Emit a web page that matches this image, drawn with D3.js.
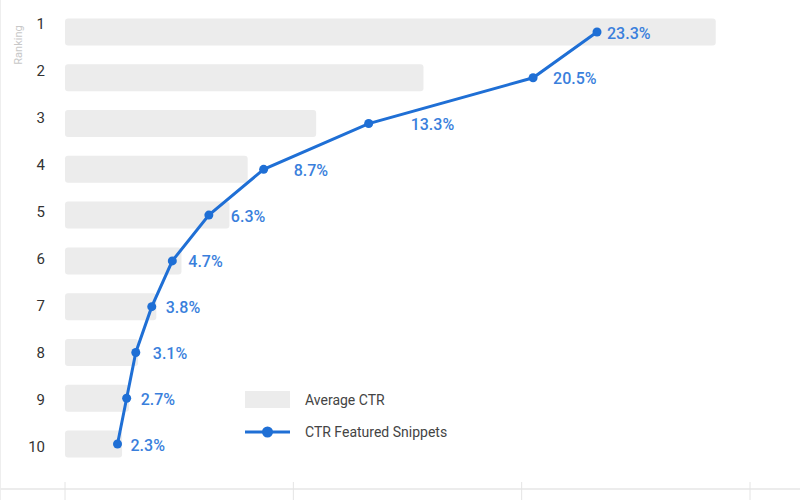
<!DOCTYPE html>
<html>
<head>
<meta charset="utf-8">
<script src="https://cdn.jsdelivr.net/npm/d3@7"></script>
<style>
  body { margin: 0; background: #fff; }
  svg { font-family: Roboto, "Noto Sans", sans-serif; }
</style>
</head>
<body>
<div id="chartHolder"></div>
<script>
const rankings = [1, 2, 3, 4, 5, 6, 7, 8, 9, 10];
const averageCtr = [28.5, 15.7, 11.0, 8.0, 7.2, 5.1, 4.0, 3.2, 2.8, 2.5];
const snippetCtr = [23.3, 20.5, 13.3, 8.7, 6.3, 4.7, 3.8, 3.1, 2.7, 2.3];
const xTicks = [0, 10, 20, 30];
const legendNames = ["Average CTR", "CTR Featured Snippets"];

// label nudges as they sit in the picture
const labelDx = [10, 20, 42, 30, 22, 16, 14, 17, 14, 13];

function GetChart(){
    const width = 800;
    const height = 500;
    const blue = "#1f6fd5";
    const svg = d3.select("#chartHolder")
        .append("svg")
        .attr("width", width)
        .attr("height", height);

    const xScale = d3.scaleLinear().domain([0, 30]).range([65, 750]);
    const yScale = d3.scalePoint().domain(rankings).range([32, 444]);
    const yLabel = d3.scalePoint().domain(rankings).range([24, 447]);
    const barH = 27;

    // frame + bottom axis
    svg.append("line")
        .attr("x1", 0.5).attr("x2", 0.5).attr("y1", 0).attr("y2", height)
        .style("stroke", "#eeeeee");
    svg.append("line")
        .attr("x1", 0).attr("x2", width).attr("y1", 489).attr("y2", 489)
        .style("stroke", "#ececec").style("stroke-width", 2);
    svg.selectAll(".xtick")
        .data(xTicks)
        .enter()
        .append("line")
        .attr("class", "xtick")
        .attr("x1", d => xScale(d)).attr("x2", d => xScale(d))
        .attr("y1", 482).attr("y2", 500)
        .style("stroke", "#e4e4e4");

    // y labels
    const yAxis = d3.axisLeft(yLabel).tickSize(0).tickPadding(0);
    const gy = svg.append("g")
        .attr("transform", "translate(45,0)")
        .call(yAxis);
    gy.select(".domain").remove();
    gy.selectAll("text")
        .style("font-size", "15px")
        .style("fill", "#333")
        .style("font-family", "Roboto, sans-serif");

    svg.append("text")
        .attr("transform", "translate(22,45) rotate(-90)")
        .attr("text-anchor", "middle")
        .style("font-size", "11px")
        .style("fill", "#c8c8c8")
        .text("Ranking");

    // bars
    svg.selectAll(".bar")
        .data(averageCtr)
        .enter()
        .append("rect")
        .attr("class", "bar")
        .attr("x", xScale(0))
        .attr("y", (d, i) => yScale(rankings[i]) - barH / 2)
        .attr("width", d => xScale(d) - xScale(0))
        .attr("height", barH)
        .attr("rx", 3)
        .style("fill", "#ececec");

    // line
    const line = d3.line()
        .x(d => xScale(d))
        .y((d, i) => yScale(rankings[i]));
    svg.append("path")
        .datum(snippetCtr)
        .attr("d", line)
        .style("fill", "none")
        .style("stroke", blue)
        .style("stroke-width", 3);
    svg.selectAll(".dot")
        .data(snippetCtr)
        .enter()
        .append("circle")
        .attr("class", "dot")
        .attr("cx", d => xScale(d))
        .attr("cy", (d, i) => yScale(rankings[i]))
        .attr("r", 4.5)
        .style("fill", blue);
    svg.selectAll(".val")
        .data(snippetCtr)
        .enter()
        .append("text")
        .attr("class", "val")
        .attr("x", (d, i) => xScale(d) + labelDx[i])
        .attr("y", (d, i) => yScale(rankings[i]) + 1)
        .attr("dy", "0.35em")
        .style("font-size", "16px")
        .style("font-weight", 500)
        .style("fill", "#3a7fdc")
        .text(d => d.toFixed(1) + "%");

    // legend
    const lg = svg.append("g").attr("transform", "translate(245,400)");
    lg.append("rect")
        .attr("x", 0).attr("y", -9).attr("width", 45).attr("height", 17)
        .style("fill", "#ececec");
    lg.append("line")
        .attr("x1", 0).attr("x2", 45).attr("y1", 32).attr("y2", 32)
        .style("stroke", blue).style("stroke-width", 3);
    lg.append("circle")
        .attr("cx", 22.5).attr("cy", 32).attr("r", 5.5)
        .style("fill", blue);
    lg.selectAll(".lt")
        .data(legendNames)
        .enter()
        .append("text")
        .attr("class", "lt")
        .attr("x", 60)
        .attr("y", (d, i) => i * 32)
        .attr("dy", "0.35em")
        .style("font-size", "14px")
        .style("fill", "#444")
        .text(d => d);
}
GetChart();
</script>
</body>
</html>
